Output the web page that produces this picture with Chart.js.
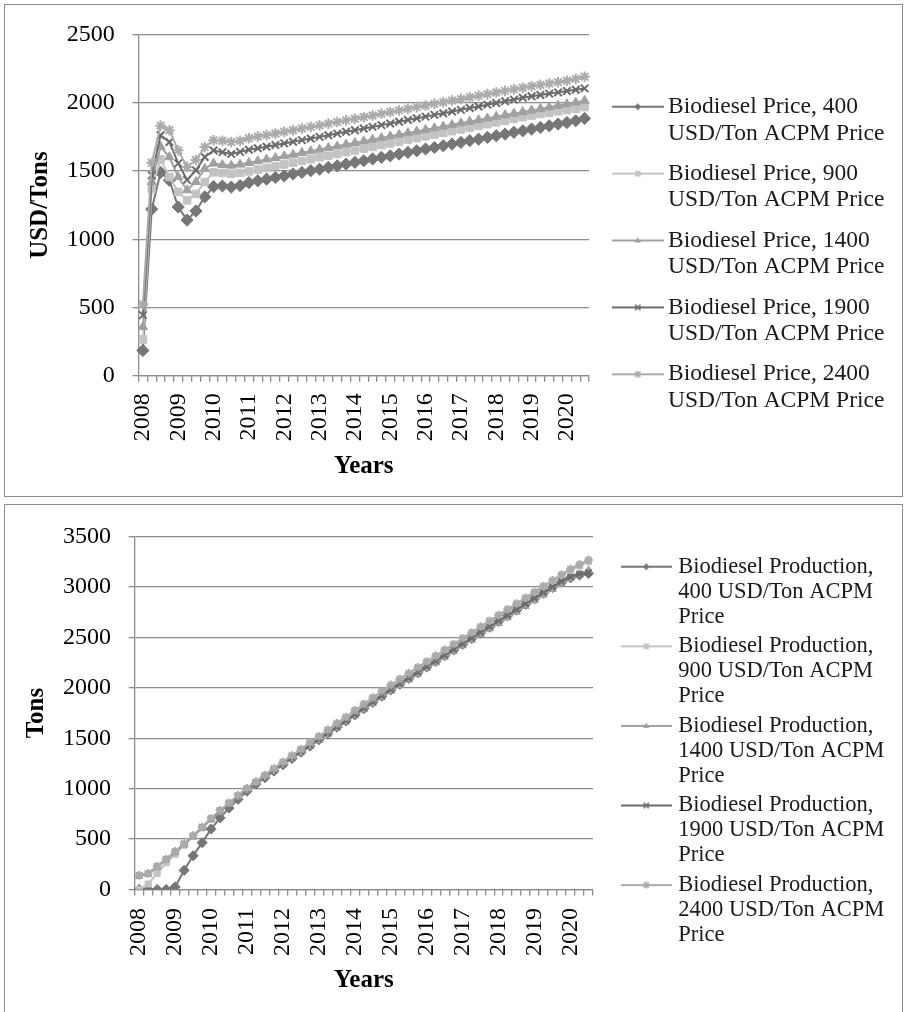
<!DOCTYPE html>
<html>
<head>
<meta charset="utf-8">
<script src="https://cdn.jsdelivr.net/npm/chart.js@4.4.1/dist/chart.umd.min.js"></script>
<style>
  html, body { margin: 0; padding: 0; background: #fff; }
  body { width: 905px; height: 1012px; position: relative; overflow: hidden; }
  .panel { position: absolute; border: 1.5px solid #8c8c8c; box-sizing: border-box; }
  canvas { position: absolute; left: 0; }
</style>
</head>
<body>
<div class="panel" style="left:4px; top:4px; width:899px; height:493px;"></div>
<div class="panel" style="left:4px; top:504px; width:899px; height:520px;"></div>
<canvas id="priceChart" width="905" height="498" style="top:0"></canvas>
<canvas id="prodChart" width="905" height="514" style="top:498px"></canvas>
<script>
// quarterly periods, 2008 Q1 .. 2020 Q3
const years = [2008, 2009, 2010, 2011, 2012, 2013, 2014, 2015, 2016, 2017, 2018, 2019, 2020];
const quarters = ['Q1', 'Q2', 'Q3', 'Q4'];
const categories = [];
years.forEach(y => quarters.forEach(q => categories.push(y + ' ' + q)));
categories.length = 51;

const acpmPrices = ['400', '900', '1400', '1900', '2400'];
const seriesColors = ['#767676', '#c3c3c3', '#a0a0a0', '#6b6b6b', '#ababab'];
const seriesMarkers = ['rectRot', 'rect', 'triangle', 'crossRot', 'star'];

// Biodiesel price, USD/Ton
const price400 = [185, 1220, 1490, 1432, 1236, 1140, 1207, 1310, 1385, 1390, 1382, 1393, 1415,
  1428, 1440, 1453, 1464, 1478, 1489, 1502, 1513, 1527, 1538,
  1551, 1563, 1575, 1588, 1600, 1611, 1624, 1636, 1648, 1661,
  1672, 1685, 1697, 1709, 1722, 1733, 1746, 1758, 1770, 1783,
  1794, 1807, 1819, 1831, 1844, 1855, 1868, 1885];
const price900 = [266, 1370, 1585, 1456, 1346, 1285, 1332, 1420, 1490, 1485, 1480, 1486, 1497,
  1510, 1522, 1536, 1548, 1561, 1574, 1586, 1600, 1612, 1625,
  1638, 1650, 1664, 1676, 1690, 1702, 1715, 1728, 1740, 1754,
  1766, 1779, 1792, 1804, 1818, 1830, 1843, 1856, 1868, 1882,
  1894, 1906, 1917, 1927, 1937, 1946, 1956, 1968];
const price1400 = [358, 1420, 1678, 1602, 1456, 1360, 1420, 1517, 1555, 1545, 1540, 1548, 1560,
  1572, 1585, 1596, 1609, 1620, 1633, 1645, 1657, 1670, 1681,
  1694, 1706, 1718, 1730, 1742, 1754, 1766, 1778, 1790, 1802,
  1814, 1826, 1838, 1850, 1862, 1874, 1886, 1898, 1910, 1921,
  1933, 1944, 1956, 1967, 1979, 1990, 2002, 2015];
const price1900 = [444, 1468, 1762, 1712, 1556, 1435, 1505, 1602, 1650, 1638, 1625, 1640, 1655,
  1666, 1678, 1690, 1702, 1714, 1726, 1738, 1750, 1762, 1774,
  1787, 1799, 1811, 1823, 1836, 1848, 1861, 1873, 1886, 1898,
  1911, 1923, 1936, 1948, 1961, 1973, 1986, 1998, 2011, 2023,
  2036, 2047, 2057, 2067, 2076, 2086, 2095, 2105];
const price2400 = [524, 1560, 1832, 1798, 1651, 1530, 1580, 1675, 1725, 1722, 1712, 1722, 1740,
  1752, 1763, 1775, 1787, 1798, 1811, 1823, 1834, 1847, 1859,
  1871, 1883, 1895, 1907, 1920, 1932, 1944, 1956, 1968, 1980,
  1992, 2004, 2016, 2028, 2040, 2052, 2063, 2075, 2087, 2099,
  2110, 2121, 2131, 2141, 2151, 2161, 2175, 2190];

// Biodiesel production, Tons
const prod400 = [0, 0, 0, 0, 25, 190, 335, 465, 600, 710, 808, 895, 975,
  1045, 1110, 1175, 1238, 1300, 1362, 1424, 1486, 1548, 1610,
  1672, 1733, 1795, 1857, 1918, 1980, 2037, 2094, 2150, 2207,
  2263, 2320, 2376, 2433, 2490, 2546, 2603, 2659, 2716, 2772,
  2828, 2885, 2941, 2997, 3050, 3092, 3120, 3135];
const prod900 = [0, 55, 160, 265, 350, 440, 525, 612, 698, 780, 855, 930, 998,
  1062, 1128, 1192, 1257, 1322, 1385, 1450, 1512, 1577, 1640,
  1703, 1768, 1830, 1893, 1957, 2018, 2076, 2133, 2192, 2250,
  2308, 2365, 2422, 2480, 2538, 2595, 2652, 2710, 2767, 2825,
  2882, 2940, 2998, 3055, 3112, 3168, 3212, 3255];
const prod1400 = [135, 155, 225, 295, 372, 448, 528, 612, 698, 776, 850, 922, 990,
  1052, 1113, 1175, 1236, 1298, 1358, 1420, 1480, 1542, 1603,
  1663, 1725, 1785, 1847, 1907, 1968, 2025, 2080, 2137, 2193,
  2250, 2305, 2362, 2418, 2475, 2530, 2586, 2642, 2698, 2754,
  2810, 2866, 2922, 2978, 3032, 3085, 3128, 3170];
const prod1900 = [138, 158, 228, 300, 375, 452, 532, 617, 703, 782, 855, 928, 995,
  1058, 1120, 1183, 1245, 1307, 1368, 1430, 1492, 1553, 1615,
  1676, 1738, 1800, 1862, 1923, 1985, 2042, 2098, 2155, 2212,
  2268, 2325, 2382, 2438, 2495, 2552, 2608, 2665, 2721, 2778,
  2834, 2890, 2946, 3002, 3055, 3100, 3130, 3145];
const prod2400 = [140, 160, 230, 300, 378, 455, 535, 620, 705, 785, 860, 935, 1005,
  1070, 1135, 1200, 1265, 1330, 1392, 1458, 1520, 1585, 1650,
  1712, 1778, 1840, 1905, 1968, 2030, 2088, 2145, 2205, 2262,
  2320, 2378, 2435, 2492, 2550, 2608, 2665, 2722, 2780, 2838,
  2895, 2952, 3010, 3068, 3125, 3180, 3225, 3270];

const priceLegend = acpmPrices.map(p => ['Biodiesel Price, ' + p, 'USD/Ton ACPM Price']);
const prodLegend = acpmPrices.map(p => ['Biodiesel Production,', p + ' USD/Ton ACPM', 'Price']);

const serif = "'Liberation Serif', 'Times New Roman', serif";
const gridColor = '#8c8c8c';

// line + marker picture used as the legend symbol
function legendIcon(style, color, width, r) {
  const c = document.createElement('canvas');
  c.width = width;
  c.height = 16;
  const g = c.getContext('2d');
  const x = width / 2, y = 8;
  g.strokeStyle = color;
  g.fillStyle = color;
  g.lineWidth = 2;
  g.beginPath();
  g.moveTo(0, y);
  g.lineTo(width, y);
  g.stroke();
  g.lineWidth = 1.5;
  g.beginPath();
  if (style === 'rectRot') {
    g.moveTo(x, y - r); g.lineTo(x + r, y); g.lineTo(x, y + r); g.lineTo(x - r, y);
    g.closePath(); g.fill();
  } else if (style === 'rect') {
    g.fillRect(x - r * 0.8, y - r * 0.8, r * 1.6, r * 1.6);
  } else if (style === 'triangle') {
    g.moveTo(x, y - r); g.lineTo(x + r * 0.9, y + r * 0.6); g.lineTo(x - r * 0.9, y + r * 0.6);
    g.closePath(); g.fill();
  } else {
    const d = r * 0.75;
    g.moveTo(x - d, y - d); g.lineTo(x + d, y + d);
    g.moveTo(x + d, y - d); g.lineTo(x - d, y + d);
    if (style === 'star') { g.moveTo(x, y - r); g.lineTo(x, y + r); }
    g.stroke();
  }
  return c;
}

// legend at the right, drawn on the chart canvas after everything else
function sideLegend(names, icons, cfg) {
  return {
    id: 'sideLegend',
    afterDraw(chart) {
      const ctx = chart.ctx;
      ctx.save();
      ctx.font = cfg.fontSize + 'px ' + serif;
      ctx.textBaseline = 'middle';
      ctx.textAlign = 'left';
      ctx.fillStyle = '#1a1a1a';
      names.forEach((lines, i) => {
        const y = cfg.firstY + i * cfg.gap;
        ctx.drawImage(icons[i], cfg.iconX, y - icons[i].height / 2);
        lines.forEach((line, k) => ctx.fillText(line, cfg.textX, y + k * cfg.lineHeight));
      });
      ctx.restore();
    }
  };
}

function makeDatasets(values, names, radius) {
  return values.map((data, i) => ({
    label: names[i].join(' '),
    data: data,
    borderColor: seriesColors[i],
    backgroundColor: seriesColors[i],
    borderWidth: 2,
    tension: 0,
    pointStyle: seriesMarkers[i],
    pointRadius: seriesMarkers[i] === 'rectRot' ? radius + 0.8 : radius,
    pointBackgroundColor: seriesColors[i],
    pointBorderColor: seriesColors[i],
    pointBorderWidth: (seriesMarkers[i] === 'crossRot' || seriesMarkers[i] === 'star') ? 2 : 1,
    order: 4 - i
  }));
}

function xScale(height, tickPad) {
  return {
    type: 'category',
    offset: true,
    afterFit: s => { s.height = height; },
    grid: { display: true, drawOnChartArea: false, drawTicks: true, tickLength: 6, offset: true, color: gridColor, lineWidth: 1.3 },
    border: { display: true, color: gridColor, width: 1.3 },
    ticks: {
      autoSkip: false, minRotation: 90, maxRotation: 90, padding: tickPad, color: '#000',
      font: { family: serif, size: 24 },
      callback: (v, i) => i % 4 === 0 ? categories[i].slice(0, 4) : ''
    },
    title: { display: true, text: 'Years', color: '#000', font: { family: serif, size: 25, weight: 'bold', lineHeight: 1.2 }, padding: { top: 0, bottom: 0 } }
  };
}

function yScale(max, width, titleText, titlePad) {
  return {
    min: 0,
    max: max,
    afterFit: s => { s.width = width; },
    grid: { color: gridColor, lineWidth: 1.3, drawTicks: true, tickLength: 6 },
    border: { display: true, color: gridColor, width: 1.3 },
    ticks: { stepSize: 500, padding: 17.7, color: '#000', font: { family: serif, size: 24 }, callback: v => String(v) },
    title: { display: true, text: titleText, color: '#000', font: { family: serif, size: 25, weight: 'bold', lineHeight: 1.2 }, padding: { top: titlePad, bottom: 0 } }
  };
}

const priceIcons = seriesMarkers.map((m, i) => legendIcon(m, seriesColors[i], 52, 3.5));
const prodIcons = seriesMarkers.map((m, i) => legendIcon(m, seriesColors[i], 51, 3.5));

new Chart(document.getElementById('priceChart'), {
  type: 'line',
  data: {
    labels: categories,
    datasets: makeDatasets([price400, price900, price1400, price1900, price2400], priceLegend, 5.3)
  },
  options: {
    responsive: false,
    animation: false,
    events: [],
    layout: { padding: { top: 34.5, left: 0, right: 316, bottom: 16.9 } },
    plugins: {
      tooltip: { enabled: false },
      legend: { display: false }
    },
    scales: {
      x: xScale(105.4, 11.6),
      y: yScale(2500, 138.5, 'USD/Tons', 25.6)
    }
  },
  plugins: [sideLegend(priceLegend, priceIcons, { iconX: 611.7, textX: 668, firstY: 106.7, gap: 66.9, lineHeight: 26.7, fontSize: 23.5 })]
});

new Chart(document.getElementById('prodChart'), {
  type: 'line',
  data: {
    labels: categories,
    datasets: makeDatasets([prod400, prod900, prod1400, prod1900, prod2400], prodLegend, 4.3)
  },
  options: {
    responsive: false,
    animation: false,
    events: [],
    layout: { padding: { top: 38.7, left: 0, right: 312, bottom: 16.6 } },
    plugins: {
      tooltip: { enabled: false },
      legend: { display: false }
    },
    scales: {
      x: xScale(105.9, 12.5),
      y: yScale(3500, 134.7, 'Tons', 22)
    }
  },
  plugins: [sideLegend(prodLegend, prodIcons, { iconX: 620.7, textX: 678.3, firstY: 68.7, gap: 79.6, lineHeight: 25, fontSize: 22.5 })]
});
</script>
</body>
</html>
